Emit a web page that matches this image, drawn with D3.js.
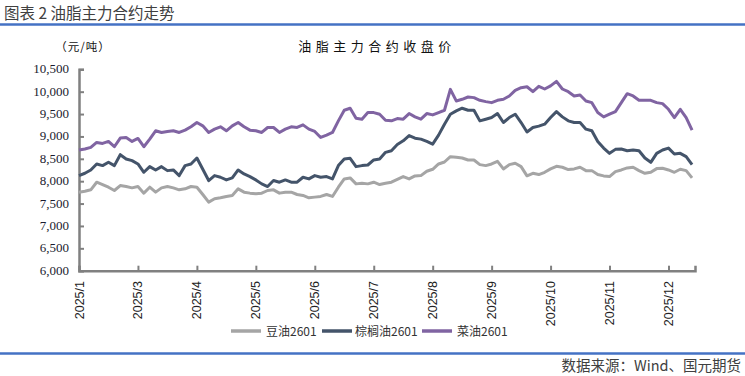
<!DOCTYPE html>
<html><head><meta charset="utf-8">
<script src="https://cdn.jsdelivr.net/npm/d3@7"></script>
<style>body{margin:0;background:#fff}svg{display:block}</style>
</head><body><svg id="c" width="745" height="376"></svg>
<script>
const tickLabels = ["2025/1","2025/3","2025/4","2025/5","2025/6","2025/7","2025/8","2025/9","2025/10","2025/11","2025/12"];
const tickEvery = 10;
const yTicks = [6000,6500,7000,7500,8000,8500,9000,9500,10000,10500];
const seriesNames = ["豆油2601","棕榈油2601","菜油2601"];
const seriesColors = ["#A5A5A5","#44546A","#8064A2"];
const soy = [7755,7777,7807,7977,7925,7866,7792,7903,7881,7851,7881,7733,7866,7755,7851,7881,7851,7807,7829,7881,7866,7703,7532,7607,7629,7659,7681,7829,7755,7733,7718,7733,7792,7807,7733,7755,7755,7703,7681,7629,7644,7659,7703,7659,7866,8051,8073,7940,7955,7940,7977,7925,7955,7977,8040,
8103,8051,8118,8125,8222,8266,8385,8429,8548,8533,8518,8474,8474,8370,8348,8385,8444,8274,8370,8400,8325,8120,8177,8148,8199,8274,8333,8311,8259,8274,8311,8236,8236,8148,8118,8103,8214,8251,8296,8311,8236,8177,8199,8281,8288,8251,8199,8266,8236,8073];
const palm = [8125,8177,8251,8385,8348,8422,8348,8592,8496,8459,8385,8199,8325,8251,8325,8236,8251,8125,8348,8385,8518,8266,8014,8125,8088,8029,8073,8251,8162,8103,8029,7940,7881,8014,7977,8029,7977,7977,8088,8051,8125,8088,8103,8051,8348,8496,8511,8325,8348,8362,8474,8496,8644,8681,8820,
8903,9020,8960,8940,8889,8829,9029,9274,9496,9570,9630,9585,9585,9348,9385,9422,9511,9311,9422,9496,9311,9100,9200,9230,9274,9422,9555,9437,9348,9311,9311,9163,9126,8889,8740,8622,8711,8718,8681,8696,8681,8518,8422,8622,8696,8740,8607,8622,8548,8370];
const rapeseed = [8696,8718,8755,8866,8844,8889,8770,8963,8977,8889,8955,8770,8940,9126,9089,9111,9126,9089,9140,9215,9311,9237,9089,9163,9215,9126,9237,9311,9215,9140,9126,9089,9200,9200,9089,9163,9215,9200,9259,9163,9111,8977,9029,9089,9348,9585,9630,9407,9385,9533,9533,9496,9363,9348,9400,
9385,9511,9437,9385,9511,9481,9533,9585,10052,9793,9830,9881,9867,9807,9778,9755,9807,9830,9904,10030,10089,10110,10000,10120,10060,10130,10230,10060,10000,9904,9926,9793,9755,9533,9437,9496,9555,9755,9955,9904,9807,9807,9807,9755,9733,9607,9422,9607,9422,9140];

const svg = d3.select("#c");
const x = d3.scaleLinear().domain([0, 104.5]).range([79, 695]);
const y = d3.scaleLinear().domain([6000, 10500]).range([270.7, 69.3]);
const axisCol = "#808080";

// header
svg.append("text").attr("x",4).attr("y",18.5).attr("font-family","'Noto Sans CJK SC',sans-serif")
  .attr("font-size",15.5).attr("fill","#404040").text("图表 2 油脂主力合约走势");
svg.append("line").attr("x1",0).attr("x2",745).attr("y1",24.5).attr("y2",24.5).attr("stroke","#4472C4").attr("stroke-width",2.5);
svg.append("text").attr("x",377).attr("y",51).attr("text-anchor","middle").attr("font-family","'Noto Sans CJK SC',serif")
  .attr("font-size",13).attr("letter-spacing",4.5).attr("fill","#111").text("油脂主力合约收盘价");
svg.append("text").attr("x",83).attr("y",51).attr("text-anchor","middle").attr("font-family","'Noto Sans CJK SC',serif")
  .attr("font-size",11.5).attr("letter-spacing",1).attr("fill","#111").text("（元/吨）");

// y axis
const yAxis = d3.axisRight(y).tickValues(yTicks).tickSize(5).tickFormat("");
const gy = svg.append("g").attr("transform","translate(79,0)").call(yAxis);
gy.select(".domain").attr("stroke",axisCol).attr("stroke-width",2.5);
gy.selectAll(".tick line").attr("stroke",axisCol).attr("stroke-width",2);
svg.selectAll(".ylab").data(yTicks).enter().append("text").attr("class","ylab")
  .attr("x",69).attr("y",d=>y(d)+4).attr("text-anchor","end")
  .attr("font-family","'Liberation Serif','Times New Roman',serif").attr("font-size",13).attr("fill","#1a1a2e")
  .text(d=>d3.format(",")(d));

// x axis
const tickIdx = tickLabels.map((_,i)=>i*tickEvery);
const xAxis = d3.axisTop(x).tickValues(tickIdx).tickSize(5).tickFormat("");
const gx = svg.append("g").attr("transform","translate(0,270.7)").call(xAxis);
gx.select(".domain").attr("stroke",axisCol).attr("stroke-width",2.5);
gx.selectAll(".tick line").attr("stroke",axisCol).attr("stroke-width",2);
svg.selectAll(".xlab").data(tickIdx).enter().append("text").attr("class","xlab")
  .attr("transform",d=>`translate(${x(d)+4.5},281) rotate(-90)`).attr("text-anchor","end")
  .attr("font-family","'Liberation Sans',Arial,sans-serif").attr("font-size",12.5).attr("fill","#222")
  .text((d,i)=>tickLabels[i]);

// lines
const line = d3.line().x((d,i)=>x(i)).y(d=>y(d));
[soy, palm, rapeseed].forEach((s,k)=>{
  svg.append("path").datum(s).attr("d",line).attr("fill","none").attr("stroke",seriesColors[k])
    .attr("stroke-width",3).attr("stroke-linejoin","round");
});

// legend
const leg = [{x:231,tx:266},{x:322,tx:355},{x:422,tx:457}];
leg.forEach((l,k)=>{
  svg.append("line").attr("x1",l.x).attr("x2",l.x+30).attr("y1",331).attr("y2",331).attr("stroke",seriesColors[k]).attr("stroke-width",3.5);
  svg.append("text").attr("x",l.tx).attr("y",335.5).attr("font-family","'Noto Sans CJK SC',sans-serif").attr("font-size",12)
    .attr("fill","#333").text(seriesNames[k]);
});

// footer
svg.append("line").attr("x1",0).attr("x2",745).attr("y1",353.5).attr("y2",353.5).attr("stroke","#4472C4").attr("stroke-width",2.5);
svg.append("text").attr("x",741).attr("y",370.5).attr("text-anchor","end").attr("font-family","'Noto Sans CJK SC',sans-serif")
  .attr("font-size",14.5).attr("fill","#404040").text("数据来源：Wind、国元期货");
</script></body></html>
